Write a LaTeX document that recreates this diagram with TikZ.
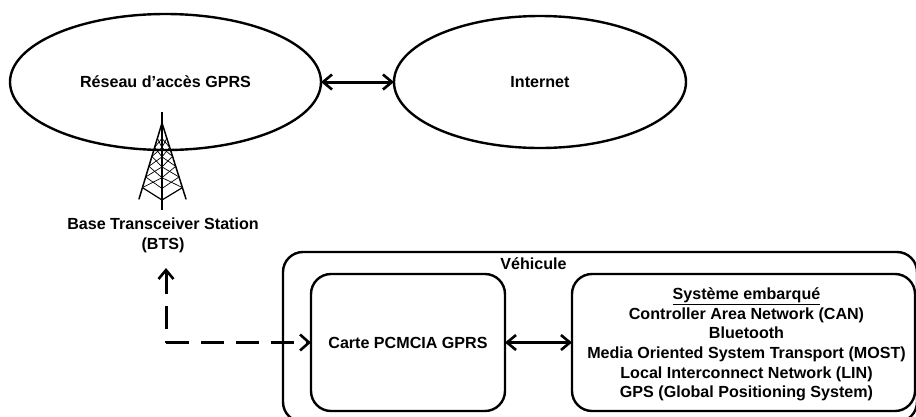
\documentclass[tikz,border=0pt]{standalone}
\usepackage{fontspec}
\setmainfont{Liberation Sans}
\usetikzlibrary{shapes.geometric,arrows.meta,calc}
\tikzset{
	txt/.style={font=\fontsize{16.1}{19.7}\selectfont\bfseries,align=center,inner sep=0pt},
	cloud/.style={txt,draw,ellipse,line width=2.4pt,outer sep=0pt},
	box/.style={txt,draw,rectangle,rounded corners=20pt,line width=2.4pt,outer sep=0pt},
	link/.style={line width=3pt,{Straight Barb[length=9pt,width=15pt,line width=2.6pt]}-{Straight Barb[length=9pt,width=15pt,line width=2.6pt]}},
	radio/.style={line width=3pt,dash pattern=on 23pt off 12pt}
}
\begin{document}
\begin{tikzpicture}[x=1pt,y=-1pt]
	\clip (0,0) rectangle (916,416);
	%ELLIPSES
	\node[cloud,minimum width=311pt,minimum height=136pt] (Gprs) at (165.5,82) {Réseau d’accès GPRS};
	\node[cloud,minimum width=292pt,minimum height=132pt] (Internet) at (540,82) {Internet};
	\draw[link] (Gprs) -- (Internet);
	%VEHICULE
	\node[box,minimum width=634pt,minimum height=170pt] (Vehicule) at (600,337) {};
	\node[txt] (VehiculeTxt) at (533.5,264) {Véhicule};
	\node[box,minimum width=194pt,minimum height=137pt] (Carte) at (408,342.5) {Carte PCMCIA GPRS};
	\node[box,minimum width=343pt,minimum height=137pt] (Systeme) at (743.5,342.5) {};
	\node[txt] (SystemeTxt) at (746.5,344.5) {\underline{Système embarqué}\\Controller Area Network (CAN)\\Bluetooth\\Media Oriented System Transport (MOST)\\Local Interconnect Network (LIN)\\GPS (Global Positioning System)};
	\draw[link] (Carte) -- (Systeme);
	%ANTENNE
	\coordinate (Tip) at (162,112);
	\coordinate (Top) at (162,123);
	\coordinate (Base) at (162,200);
	\coordinate (Pied) at (162,210);
	\coordinate (FootL) at (139,199);
	\coordinate (FootR) at (186,199);
	\draw[line width=1.5pt] (Tip) -- (Pied);
	\draw[line width=1.5pt,line cap=round] (Top) -- (FootL);
	\draw[line width=1.5pt,line cap=round] (Top) -- (FootR);
	\foreach \t/\u in {0.2/0.32,0.32/0.44,0.44/0.57,0.57/0.71,0.71/0.85}{
		\draw[line width=0.7pt] ($(Top)!\t!(FootL)$) -- ($(Top)!\u!(Base)$);
		\draw[line width=0.7pt] ($(Top)!\t!(Base)$) -- ($(Top)!\u!(FootL)$);
		\draw[line width=0.7pt] ($(Top)!\t!(FootR)$) -- ($(Top)!\u!(Base)$);
		\draw[line width=0.7pt] ($(Top)!\t!(Base)$) -- ($(Top)!\u!(FootR)$);
	}
	\draw[line width=1.2pt] ($(Top)!0.85!(FootL)$) -- (Base) -- ($(Top)!0.85!(FootR)$);
	%BTS
	\node[txt] (Bts) at (163,235.5) {Base Transceiver Station\\(BTS)};
	\coordinate (Coin) at (166,342.5);
	\coordinate (BtsEnd) at (166,268);
	\draw[radio,{Straight Barb[length=9pt,width=15pt,line width=2.6pt]}-] (BtsEnd) -- (Coin);
	\draw[radio,-{Straight Barb[length=9pt,width=16pt,line width=2.6pt]}] (Coin) -- (Carte);
\end{tikzpicture}
\end{document}
